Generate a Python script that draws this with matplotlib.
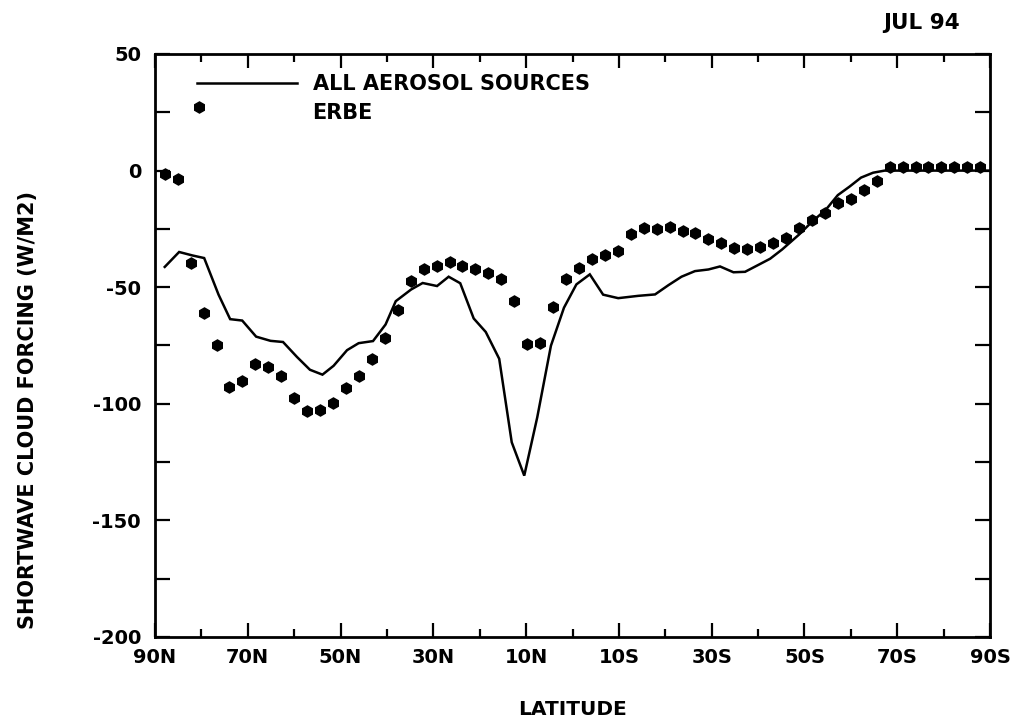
import matplotlib
matplotlib.use("Agg")
import matplotlib.pyplot as plt
from matplotlib.lines import Line2D
from matplotlib.ticker import MultipleLocator, FixedLocator

# ---------------- data ----------------
model_lat = [87.9, 84.8, 81.9, 79.4, 76.3, 73.8, 71.2, 68.2, 65.1, 62.4, 59.4, 56.6,
             53.9, 51.5, 48.6, 46.1, 43.0, 40.3, 38.1, 34.8, 32.3, 29.2, 26.7, 24.2,
             21.3, 18.7, 15.8, 13.1, 10.4, 7.6, 4.65, 1.84, -0.84, -3.73, -6.6, -9.85,
             -14.2, -17.8, -20.7, -23.5, -26.4, -29.3, -31.8, -34.7, -37.2, -40.1,
             -42.6, -45.2, -48.8, -51.7, -54.6, -57.2, -59.7, -62.2, -64.8, -67.3, -90.0]
model_val = [-41.3, -34.9, -36.4, -37.5, -53.2, -63.7, -64.3, -71.2, -73.0, -73.5, -79.9, -85.4,
             -87.5, -83.7, -77.0, -74.0, -73.1, -66.0, -56.0, -51.0, -48.2, -49.5, -45.5, -48.3,
             -63.4, -69.2, -80.7, -116.5, -130.8, -105.8, -75.1, -58.8, -48.8, -44.5, -53.2, -54.7,
             -53.7, -53.1, -49.1, -45.5, -43.1, -42.4, -41.1, -43.6, -43.4, -40.4,
             -37.8, -33.8, -27.5, -21.8, -16.8, -10.5, -6.9, -3.0, -0.9, 0.0, 0.0]

erbe_lat = [87.86, 85.10, 82.31, 80.6, 79.53, 76.74, 73.95, 71.16, 68.37, 65.58, 62.79,
            60.00, 57.21, 54.42, 51.63, 48.84, 46.04, 43.25, 40.46, 37.67, 34.88, 32.09,
            29.30, 26.51, 23.72, 20.93, 18.14, 15.35, 12.56, 9.77, 6.98, 4.19, 1.40,
            -1.40, -4.19, -6.98, -9.77, -12.56, -15.35, -18.14, -20.93, -23.72, -26.51,
            -29.30, -32.09, -34.88, -37.67, -40.46, -43.25, -46.04, -48.84, -51.63, -54.42,
            -57.21, -60.00, -62.79, -65.58, -68.37, -71.16, -73.95, -76.74, -79.53, -82.31,
            -85.10, -87.86]
erbe_val = [-1.3, -3.8, -39.6, 27.3, -61.0, -74.9, -92.8, -90.4, -82.8, -84.3, -88.2,
            -97.5, -103.1, -102.5, -99.7, -93.3, -88.0, -80.9, -71.7, -59.9, -47.5, -42.0,
            -40.7, -39.0, -40.9, -42.0, -43.8, -46.5, -55.9, -74.3, -73.9, -58.7, -46.5,
            -41.9, -38.0, -36.2, -34.3, -27.0, -24.8, -24.9, -24.1, -26.0, -26.7,
            -29.5, -31.0, -33.0, -33.7, -32.7, -31.2, -28.8, -24.6, -21.1, -18.3,
            -13.9, -12.3, -8.4, -4.4, 1.4, 1.4, 1.4, 1.4, 1.4, 1.4,
            1.4, 1.4]

xtick_pos = [90, 70, 50, 30, 10, -10, -30, -50, -70, -90]
xtick_lab = ["90N", "70N", "50N", "30N", "10N", "10S", "30S", "50S", "70S", "90S"]
ytick_pos = [50, 0, -50, -100, -150, -200]
ytick_lab = ["50", "0", "-50", "-100", "-150", "-200"]

# ---------------- figure ----------------
plt.rcParams['font.family'] = ['DejaVu Sans']
plt.rcParams['font.weight'] = 'bold'
fig = plt.figure(figsize=(10.21, 7.23), dpi=100)
W, H = 1021, 723
L, R, T, B = 155, 990, 54, 637
ax = fig.add_axes([L / W, 1 - B / H, (R - L) / W, (B - T) / H])

ax.plot(model_lat, model_val, color="black", lw=1.8, solid_joinstyle="miter")
ax.plot(erbe_lat, erbe_val, linestyle="none", marker="h", ms=8, color="black")

ax.set_xlim(90, -90)
ax.set_ylim(-200, 50)

ax.xaxis.set_major_locator(FixedLocator(xtick_pos))
ax.set_xticklabels(xtick_lab)
ax.xaxis.set_minor_locator(MultipleLocator(10))
ax.yaxis.set_major_locator(FixedLocator(ytick_pos))
ax.set_yticklabels(ytick_lab)
ax.yaxis.set_minor_locator(MultipleLocator(25))

ax.tick_params(axis="both", which="both", direction="in", top=True, right=True,
               width=1.6, color="black")
ax.tick_params(axis="x", which="major", length=10, labelsize=14, pad=8)
ax.tick_params(axis="x", which="minor", length=6)
ax.tick_params(axis="y", which="major", length=11, labelsize=14, pad=10)
ax.tick_params(axis="y", which="minor", length=11)

for s in ax.spines.values():
    s.set_linewidth(2.0)

ax.set_xlabel("LATITUDE", fontsize=14.5, fontweight="bold", labelpad=24)
fig.text(28 / W, 1 - 410 / H, "SHORTWAVE CLOUD FORCING (W/M2)", rotation=90,
         ha="center", va="center", fontsize=15, fontweight="bold")
fig.text(960 / W, 1 - 23 / H, "JUL 94", ha="right", va="center", fontsize=15.5,
         fontweight="bold")

handles = [Line2D([], [], color="black", lw=1.8),
           Line2D([], [], linestyle="none")]
ax.legend(handles, ["ALL AEROSOL SOURCES", "ERBE"], loc="upper left",
          bbox_to_anchor=((197 - L) / (R - L), (B - 74) / (B - T)),
          frameon=False, handlelength=4.8, handletextpad=0.75,
          borderpad=0, borderaxespad=0, labelspacing=0.45,
          prop={"weight": "bold", "size": 15})

fig.savefig("out.png", dpi=100)
